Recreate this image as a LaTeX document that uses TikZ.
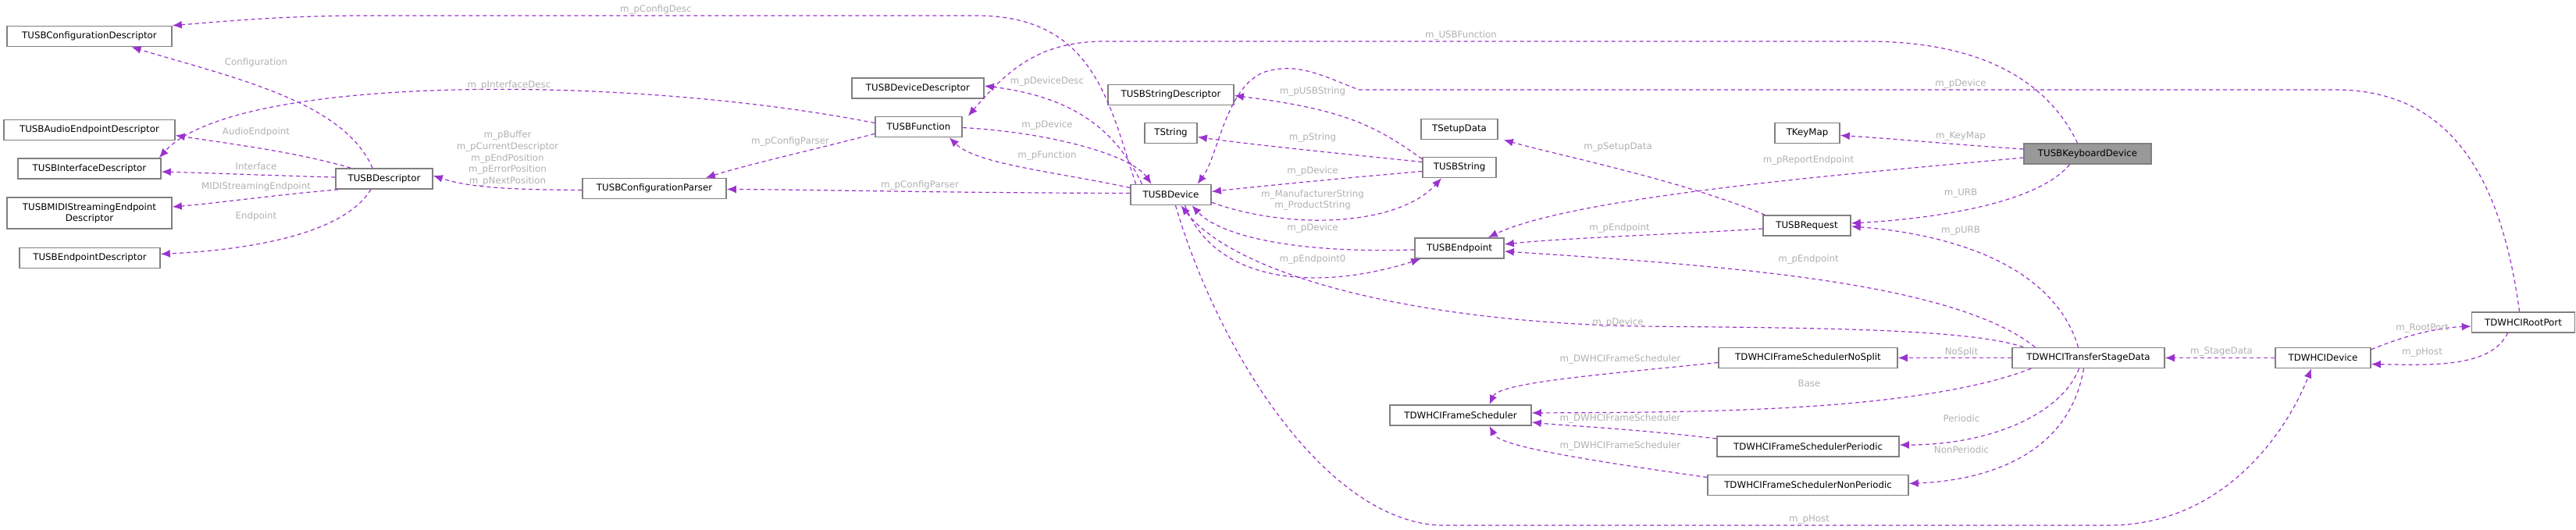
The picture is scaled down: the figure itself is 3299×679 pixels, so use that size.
\documentclass[tikz,border=0pt]{standalone}
\usepackage{fontspec}
\setmainfont{DejaVu Sans}
\usetikzlibrary{arrows.meta,calc}
\definecolor{ep}{HTML}{9A32CD}
\definecolor{lb}{HTML}{B0B0B0}
\definecolor{bd}{HTML}{808080}
\tikzset{
 cls/.style={draw=bd,line width=0.8pt,fill=white,inner sep=0pt,minimum height=13pt,font=\fontsize{5.9}{7}\selectfont,align=center},
 lbl/.style={text=lb,inner sep=0pt,font=\fontsize{5.9}{7.4}\selectfont,align=center},
 rel/.style={draw=ep,line width=0.6pt,dash pattern=on 2.5pt off 2pt,-{Latex[length=6pt,width=5pt]}},
}
\begin{document}
\begin{tikzpicture}[x=0.5pt,y=-0.5pt]
\useasboundingbox (0,0) rectangle (3299,679);
% nodes
\node[cls,minimum width=105.5pt] (cd) at (114.5,46.5) {TUSBConfigurationDescriptor};
\node[cls,minimum width=109.5pt] (aed) at (114.5,166.5) {TUSBAudioEndpointDescriptor};
\node[cls,minimum width=91.5pt] (ifd) at (114.5,216) {TUSBInterfaceDescriptor};
\node[cls,minimum width=105.5pt,minimum height=20pt] (midi) at (114.5,273) {TUSBMIDIStreamingEndpoint\\Descriptor};
\node[cls,minimum width=90pt] (epd) at (115,330.5) {TUSBEndpointDescriptor};
\node[cls,minimum width=62pt] (desc) at (492,229) {TUSBDescriptor};
\node[cls,minimum width=92pt] (parser) at (838,241.5) {TUSBConfigurationParser};
\node[cls,minimum width=84.5pt] (devd) at (1175.5,113) {TUSBDeviceDescriptor};
\node[cls,minimum width=55.5pt] (func) at (1176.5,162.5) {TUSBFunction};
\node[cls,minimum width=80.5pt] (strd) at (1499.5,121.5) {TUSBStringDescriptor};
\node[cls,minimum width=33.5pt] (tstr) at (1499.5,170.5) {TString};
\node[cls,minimum width=51.5pt] (dev) at (1499.5,249.5) {TUSBDevice};
\node[cls,minimum width=49pt] (setup) at (1869,165.5) {TSetupData};
\node[cls,minimum width=47pt] (ustr) at (1869,214.5) {TUSBString};
\node[cls,minimum width=57pt] (ep) at (1869,318) {TUSBEndpoint};
\node[cls,minimum width=41.5pt] (keymap) at (2314.5,170.5) {TKeyMap};
\node[cls,minimum width=81.5pt,fill=bd!80] (kbd) at (2673.5,197) {TUSBKeyboardDevice};
\node[cls,minimum width=56pt] (req) at (2314,289) {TUSBRequest};
\node[cls,minimum width=114.5pt] (ns) at (2315.5,458.5) {TDWHCIFrameSchedulerNoSplit};
\node[cls,minimum width=97.5pt] (tsd) at (2674.5,458.5) {TDWHCITransferStageData};
\node[cls,minimum width=61pt] (hcd) at (2975,458.5) {TDWHCIDevice};
\node[cls,minimum width=66pt] (rp) at (3231.5,413) {TDWHCIRootPort};
\node[cls,minimum width=90.5pt] (fs) at (1870.5,532) {TDWHCIFrameScheduler};
\node[cls,minimum width=116.5pt] (per) at (2315.5,572) {TDWHCIFrameSchedulerPeriodic};
\node[cls,minimum width=128.5pt] (nper) at (2315.5,621.5) {TDWHCIFrameSchedulerNonPeriodic};
% edges
\draw[rel] ($(dev.north)+(-45,0)$) .. controls (1420,130) and (1400,20) .. (1250,20) -- (470,20) .. controls (360,20) and (280,28) .. (cd.north east);
\draw[rel] ($(desc.north)+(-15,0)$) .. controls (440,130) and (300,100) .. ($(cd.south)+(54,0)$);
\draw[rel] ($(func.west)+(0,-5)$) .. controls (800,95) and (300,95) .. ($(ifd.north east)+(-3,0)$);
\draw[rel] ($(desc.north west)+(20,0)$) .. controls (380,195) and (300,185) .. ($(aed.east)+(0,7)$);
\draw[rel] ($(desc.west)+(0,-2)$) .. controls (350,225) and (280,222) .. ($(ifd.east)+(0,4)$);
\draw[rel] ($(desc.south west)+(4,0)$) .. controls (350,250) and (280,260) .. ($(midi.east)+(0,-8)$);
\draw[rel] ($(desc.south)+(-17,0)$) .. controls (440,300) and (320,320) .. ($(epd.east)+(0,-5)$);
\draw[rel] ($(parser.west)+(0,2)$) .. controls (650,243) and (600,240) .. ($(desc.east)+(0,-4)$);
\draw[rel] ($(func.south west)+(0,-5)$) .. controls (1050,190) and (960,210) .. ($(parser.north east)+(-27,0)$);
\draw[rel] ($(dev.west)+(0,-2)$) .. controls (1200,247) and (1050,243) .. ($(parser.east)+(0,1)$);
\draw[rel] ($(dev.north)+(-37,0)$) .. controls (1430,170) and (1380,125) .. ($(devd.east)+(0,-3)$);
\draw[rel] ($(kbd.north)+(-13,0)$) .. controls (2630,120) and (2560,53) .. (2390,53) -- (1415,53) .. controls (1330,53) and (1290,90) .. ($(func.north east)+(7,0)$);
\draw[rel] ($(func.east)+(0,1)$) .. controls (1350,170) and (1450,200) .. ($(dev.north)+(-25,0)$);
\draw[rel] ($(dev.west)+(0,-9)$) .. controls (1350,220) and (1250,210) .. ($(func.south east)+(-17,0)$);
\draw[rel] ($(ustr.north west)+(0,3)$) .. controls (1760,160) and (1720,140) .. ($(strd.east)+(0,1)$);
\draw[rel] ($(ustr.west)+(0,-7)$) .. controls (1700,195) and (1600,185) .. ($(tstr.east)+(0,5)$);
\draw[rel] ($(ustr.west)+(0,5)$) .. controls (1700,230) and (1600,240) .. ($(dev.east)+(0,-4)$);
\draw[rel] ($(dev.south east)+(0,-4)$) .. controls (1650,295) and (1790,290) .. ($(ustr.south)+(-23,0)$);
\draw[rel] ($(rp.north)+(-5,0)$) .. controls (3200,200) and (3120,115) .. (2990,115) -- (1740,115) .. controls (1690,95) and (1660,80) .. (1620,92) .. controls (1570,110) and (1560,200) .. ($(dev.north)+(34,0)$);
\draw[rel] ($(ep.west)+(0,2)$) .. controls (1650,325) and (1560,300) .. ($(dev.south)+(27,0)$);
\draw[rel] ($(dev.south)+(18,0)$) .. controls (1560,370) and (1700,370) .. ($(ep.south west)+(8,0)$);
\draw[rel] ($(req.north west)+(3,0)$) .. controls (2150,230) and (2000,200) .. ($(setup.south east)+(7,0)$);
\draw[rel] ($(kbd.west)+(0,-6)$) .. controls (2500,185) and (2430,178) .. ($(keymap.east)+(0,3)$);
\draw[rel] ($(kbd.west)+(0,5)$) .. controls (2400,220) and (2020,250) .. ($(ep.north east)+(-21,0)$);
\draw[rel] ($(req.west)+(0,4)$) .. controls (2150,300) and (2000,305) .. ($(ep.east)+(0,-5)$);
\draw[rel] ($(kbd.south)+(-23,0)$) .. controls (2610,260) and (2480,280) .. ($(req.east)+(0,-3)$);
\draw[rel] ($(tsd.north)+(-13,0)$) .. controls (2630,340) and (2500,300) .. ($(req.east)+(0,1)$);
\draw[rel] ($(tsd.north west)+(30,0)$) .. controls (2500,360) and (2200,340) .. ($(ep.east)+(0,4)$);
\draw[rel] ($(tsd.north west)+(15,0)$) .. controls (2520,420) and (2300,420) .. (2100,418) .. controls (1800,412) and (1580,350) .. ($(dev.south)+(13,0)$);
\draw[rel] (tsd.west) -- (ns.east);
\draw[rel] ($(ns.west)+(0,6)$) .. controls (2050,480) and (1920,490) .. ($(fs.north)+(37,0)$);
\draw[rel] ($(tsd.south west)+(25,0)$) .. controls (2450,530) and (2150,528) .. ($(fs.east)+(0,-3)$);
\draw[rel] ($(per.west)+(0,-10)$) .. controls (2100,550) and (2000,545) .. ($(fs.east)+(0,9)$);
\draw[rel] ($(nper.west)+(0,-10)$) .. controls (2000,585) and (1920,570) .. ($(fs.south)+(37,0)$);
\draw[rel] ($(tsd.south)+(-12,0)$) .. controls (2640,530) and (2550,570) .. ($(per.east)+(0,-2)$);
\draw[rel] ($(tsd.south)+(-6,0)$) .. controls (2650,580) and (2550,615) .. ($(nper.east)+(0,-2)$);
\draw[rel] (hcd.west) -- (tsd.east);
\draw[rel] ($(hcd.north east)+(0,3)$) .. controls (3080,430) and (3120,420) .. ($(rp.west)+(0,5)$);
\draw[rel] ($(rp.south)+(-20,0)$) .. controls (3190,470) and (3120,468) .. ($(hcd.east)+(0,8)$);
\draw[rel] ($(dev.south)+(6,0)$) .. controls (1560,450) and (1700,673) .. (1850,673) -- (2700,673) .. controls (2850,673) and (2930,550) .. ($(hcd.south)+(-15,0)$);
% labels
\node[lbl] (l1) at (840,12) {m\_pConfigDesc};
\node[lbl] (l2) at (328,80) {Configuration};
\node[lbl] (l3) at (652,109) {m\_pInterfaceDesc};
\node[lbl] (l4) at (328,169) {AudioEndpoint};
\node[lbl] (l5) at (328,213) {Interface};
\node[lbl] (l6) at (328,239) {MIDIStreamingEndpoint};
\node[lbl] (l7) at (328,277) {Endpoint};
\node[lbl] (l8) at (650,203) {m\_pBuffer\\m\_pCurrentDescriptor\\m\_pEndPosition\\m\_pErrorPosition\\m\_pNextPosition};
\node[lbl] (l9) at (1012,181) {m\_pConfigParser};
\node[lbl] (l10) at (1178,237) {m\_pConfigParser};
\node[lbl] (l11) at (1871,45) {m\_USBFunction};
\node[lbl] (l12) at (1341,104) {m\_pDeviceDesc};
\node[lbl] (l13) at (1681,117) {m\_pUSBString};
\node[lbl] (l14) at (1341,160) {m\_pDevice};
\node[lbl] (l15) at (1341,199) {m\_pFunction};
\node[lbl] (l16) at (1681,176) {m\_pString};
\node[lbl] (l17) at (2072,189) {m\_pSetupData};
\node[lbl] (l18) at (1681,219) {m\_pDevice};
\node[lbl] (l19) at (1681,256.5) {m\_ManufacturerString\\m\_ProductString};
\node[lbl] (l20) at (1681,292) {m\_pDevice};
\node[lbl] (l21) at (2074,292) {m\_pEndpoint};
\node[lbl] (l22) at (1681,332) {m\_pEndpoint0};
\node[lbl] (l23) at (2072,413) {m\_pDevice};
\node[lbl] (l24) at (2511,107) {m\_pDevice};
\node[lbl] (l25) at (2511,175) {m\_KeyMap};
\node[lbl] (l26) at (2316,205) {m\_pReportEndpoint};
\node[lbl] (l27) at (2511,248) {m\_URB};
\node[lbl] (l28) at (2511,296) {m\_pURB};
\node[lbl] (l29) at (2316,332) {m\_pEndpoint};
\node[lbl] (l30) at (3102,421) {m\_RootPort};
\node[lbl] (l31) at (3102,452) {m\_pHost};
\node[lbl] (l32) at (2845,451) {m\_StageData};
\node[lbl] (l33) at (2512,451) {NoSplit};
\node[lbl] (l34) at (2075,460) {m\_DWHCIFrameScheduler};
\node[lbl] (l35) at (2317,491) {Base};
\node[lbl] (l36) at (2075,536) {m\_DWHCIFrameScheduler};
\node[lbl] (l37) at (2512,536) {Periodic};
\node[lbl] (l38) at (2075,571) {m\_DWHCIFrameScheduler};
\node[lbl] (l39) at (2512,576) {NonPeriodic};
\node[lbl] (l40) at (2317,666) {m\_pHost};
\end{tikzpicture}
\end{document}
